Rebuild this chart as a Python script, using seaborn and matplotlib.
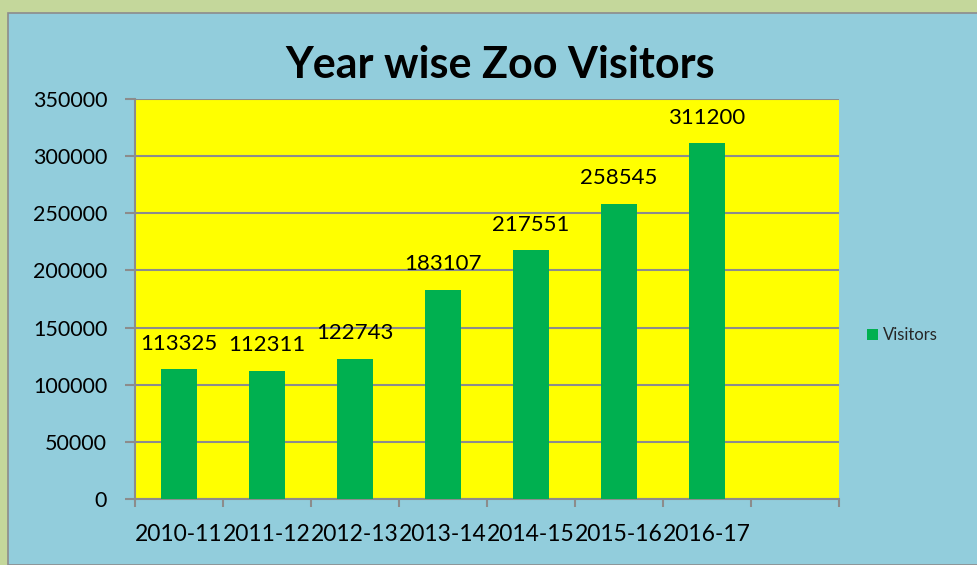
import matplotlib
matplotlib.use("Agg")
import matplotlib.pyplot as plt
import seaborn as sns
import pandas as pd
from matplotlib.patches import Rectangle

years = ["2010-11", "2011-12", "2012-13", "2013-14", "2014-15", "2015-16", "2016-17"]
visitors = [113325, 112311, 122743, 183107, 217551, 258545, 311200]
yticks = [0, 50000, 100000, 150000, 200000, 250000, 300000, 350000]

sns.set_theme(style="white")
plt.rcParams["font.family"] = ["Lato", "DejaVu Sans"]

W, H = 978, 565
fig = plt.figure(figsize=(W / 100, H / 100), dpi=100)
fig.patch.set_facecolor("#C4D79B")
fig.patches.append(Rectangle((8 / W, 0), 1, 1 - 13 / H, transform=fig.transFigure,
                             facecolor="#92CDDC", edgecolor="#8C8C8C", linewidth=1.2, zorder=-10))

ax = fig.add_axes([135 / W, (H - 499) / H, 704 / W, 400 / H])
ax.set_facecolor("#FFFF00")

df = pd.DataFrame({"Year": years, "Visitors": visitors})
sns.barplot(data=df, x="Year", y="Visitors", color="#00B050", saturation=1,
            width=0.41, ax=ax, label="Visitors", zorder=3, linewidth=0, edgecolor="none")

ax.set_xlim(-0.5, 7.5)
ax.set_ylim(0, 350000)
ax.set_yticks(yticks)
ax.set_yticklabels([str(v) for v in yticks])
ax.yaxis.grid(True, color="#8C8C8C", linewidth=1.5, zorder=1)
ax.set_axisbelow(True)

ax.set_xticks(range(len(years)))
ax.set_xticklabels(years)
ax.set_xticks([i - 0.5 for i in range(9)], minor=True)
ax.tick_params(axis="x", which="major", length=0, pad=18, labelsize=16.5, colors="black")
ax.tick_params(axis="x", which="minor", length=6, width=1.5, color="#8C8C8C", direction="out", bottom=True)
ax.tick_params(axis="y", length=7, width=1.5, color="#8C8C8C", direction="out", left=True, labelsize=15.5, pad=13)
for lab in ax.get_xticklabels() + ax.get_yticklabels():
    lab.set_color("black")

for s in ["top", "right"]:
    ax.spines[s].set_visible(False)
for s in ["left", "bottom"]:
    ax.spines[s].set_color("#8C8C8C")
    ax.spines[s].set_linewidth(1.5)

ax.set_xlabel("")
ax.set_ylabel("")

for i, v in enumerate(visitors):
    ax.annotate(str(v), (i, v), xytext=(0, 11), textcoords="offset points",
                ha="center", va="bottom", fontsize=16, color="black")

leg = ax.legend(loc="center left", bbox_to_anchor=(1.018, 0.41), frameon=False,
                fontsize=12, handlelength=0.65, handleheight=0.65, handletextpad=0.35)

fig.text(500 / W, 1 - 65 / H, "Year wise Zoo Visitors", ha="center", va="center",
         fontsize=31, fontweight="bold", color="black")

fig.savefig("out.png", dpi=100, facecolor=fig.get_facecolor())
